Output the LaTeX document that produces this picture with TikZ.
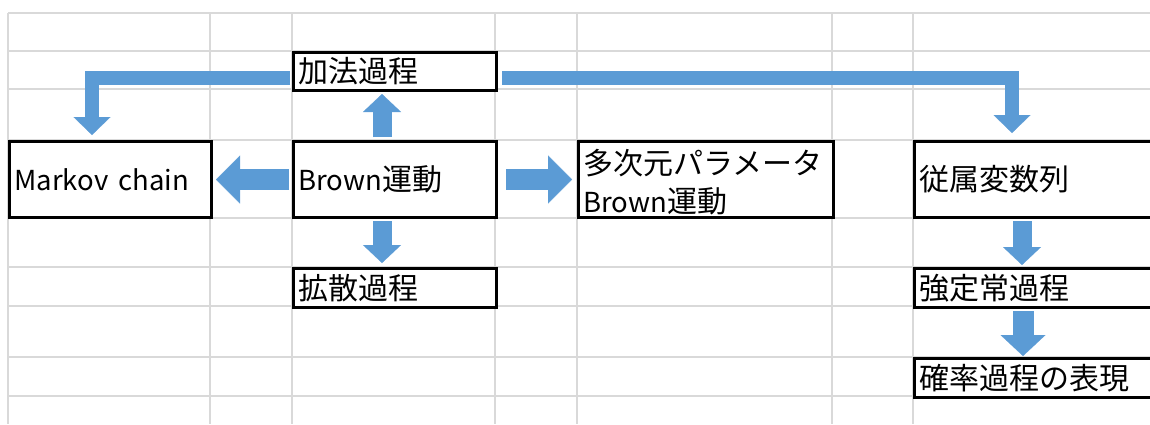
\documentclass[tikz,border=0pt]{standalone}
\usepackage{fontspec}
\setmainfont{Noto Sans CJK JP}
\usetikzlibrary{arrows.meta,calc}
\definecolor{gridc}{HTML}{D9D9D9}
\definecolor{arrc}{HTML}{5B9BD5}
\newcommand\lat[1]{{\fontsize{27.5}{38}\selectfont #1}}
\begin{document}
\begin{tikzpicture}[x=1pt,y=-1pt,
  gridline/.style={draw=gridc,line width=1.5pt},
  box/.style={draw=black,fill=white,line width=3pt,rectangle,anchor=north west,
    inner xsep=5pt,inner ysep=0pt,align=left,
    font=\fontsize{30}{38}\selectfont},
  harrow/.style={draw=arrc,line width=21pt,
    -{Triangle[length=24pt,width=48pt,line width=0.1pt]}},
  varrow/.style={draw=arrc,line width=19pt,
    -{Triangle[length=18pt,width=38pt,line width=0.1pt]}},
  varrowb/.style={draw=arrc,line width=21pt,
    -{Triangle[length=21pt,width=45pt,line width=0.1pt]}},
  barrow/.style={draw=arrc,line width=14pt,line join=miter,
    -{Triangle[length=18pt,width=37pt,line width=0.1pt]}}]
\useasboundingbox (0,0) rectangle (1150,424);
\clip (0,0) rectangle (1150,424);
% spreadsheet grid
\foreach \gx in {8,210,292,495,577,832,913}
  \draw[gridline] (\gx,13) -- (\gx,424);
\foreach \gy in {13,51,89,140,218,267,306,357,396}
  \draw[gridline] (8,\gy) -- (1150,\gy);
% boxes
\node[box,text width=193pt,minimum height=38pt] (kahou) at (292,51) {加法過程};
\node[box,text width=192pt,minimum height=76pt] (markov) at (8,140) {\lat{Markov chain}};
\node[box,text width=193pt,minimum height=76pt] (brown) at (292,140) {\lat{Brown}運動};
\node[box,text width=245pt,minimum height=76pt] (tajigen) at (577,140) {\rule{0pt}{30pt}多次元パラメータ\\\lat{Brown}運動};
\node[box,text width=257pt,minimum height=76pt] (juzoku) at (913,140) {従属変数列};
\node[box,text width=193pt,minimum height=39pt] (kakusan) at (292,267) {拡散過程};
\node[box,text width=257pt,minimum height=39pt] (kyoteijo) at (913,267) {強定常過程};
\node[box,text width=257pt,minimum height=39pt] (kakuritsu) at (913,357) {確率過程の表現};
% arrows
\draw[varrow,shorten <=3pt,shorten >=2pt] ([xshift=90pt]brown.north west) -- ([xshift=90pt]kahou.south west);
\draw[varrow,shorten <=2pt,shorten >=4pt] ([xshift=90pt]brown.south west) -- ([xshift=90pt]kakusan.north west);
\draw[harrow,shorten <=3pt,shorten >=3pt] (brown.west) -- (markov.east);
\draw[harrow,shorten <=8pt,shorten >=5pt] (brown.east) -- (tajigen.west);
\draw[barrow,shorten <=2pt,shorten >=5pt] ([yshift=-6pt]kahou.west) -| ([xshift=84pt]markov.north west);
\draw[barrow,shorten <=4pt,shorten >=7pt] ([yshift=-6pt]kahou.east) -| ([xshift=99pt]juzoku.north west);
\draw[varrow,shorten <=2pt,shorten >=2pt] ([xshift=109pt]juzoku.south west) -- ([xshift=109pt]kyoteijo.north west);
\draw[varrowb,shorten <=2pt,shorten >=1pt] ([xshift=110pt]kyoteijo.south west) -- ([xshift=110pt]kakuritsu.north west);
\end{tikzpicture}
\end{document}
